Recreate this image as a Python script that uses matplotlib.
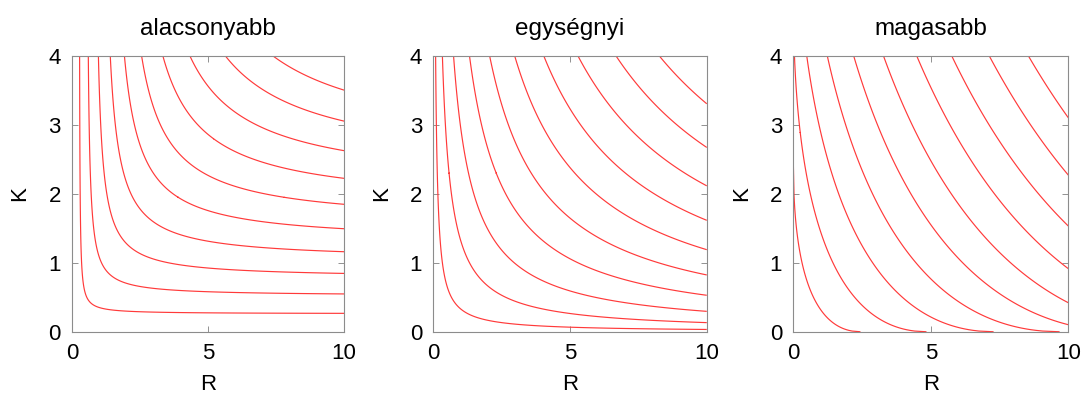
import numpy as np
import matplotlib
matplotlib.use('Agg')
import matplotlib.pyplot as plt

plt.rcParams['font.family'] = ['Liberation Sans', 'DejaVu Sans']

# panel titles (elasticity of substitution: lower / unit / higher)
titles = ['alacsonyabb', 'egységnyi', 'magasabb']

# CES exponent s in Y = (0.5*R^s + 0.5*K^s)^(1/s); s=0 -> Cobb-Douglas
ces_exp = [-1.0, 0.0, 0.5]

# contour levels (10 isoquants per panel)
levels_low = [0.52, 1.04, 1.56, 2.08, 2.60, 3.12, 3.64, 4.16, 4.68, 5.19]
levels_unit = [0.575, 1.15, 1.72, 2.30, 2.87, 3.45, 4.02, 4.60, 5.17, 5.75]
levels_high = [0.61, 1.21, 1.82, 2.42, 3.03, 3.63, 4.24, 4.84, 5.45, 6.06]
all_levels = [levels_low, levels_unit, levels_high]

# input grid (R: labour, K: capital)
R = np.linspace(0, 10, 401)
K = np.linspace(0, 4, 401)
RR, KK = np.meshgrid(R, K)


def ces(r, k, s):
    with np.errstate(divide='ignore', invalid='ignore'):
        if s == 0:
            y = np.sqrt(r * k)
        else:
            y = (0.5 * r ** s + 0.5 * k ** s) ** (1.0 / s)
    return np.nan_to_num(y, nan=0.0, posinf=0.0)


fig = plt.figure(figsize=(10.85, 3.94), dpi=100)
positions = [[0.0664, 0.158, 0.2507, 0.700],
             [0.3994, 0.158, 0.2520, 0.700],
             [0.7312, 0.158, 0.2535, 0.700]]

for pos, title, s, lev in zip(positions, titles, ces_exp, all_levels):
    ax = fig.add_axes(pos)
    Z = ces(RR, KK, s)
    ax.contour(RR, KK, Z, levels=lev, colors='#ff3a3a', linewidths=0.85)
    ax.set_xlim(0, 10)
    ax.set_ylim(0, 4)
    ax.set_xticks([0, 5, 10])
    ax.set_yticks([0, 1, 2, 3, 4])
    ax.set_title(title, fontsize=17.5, pad=15)
    ax.set_xlabel('R', fontsize=16, labelpad=7)
    ax.set_ylabel('K', fontsize=16, labelpad=13)
    ax.tick_params(direction='in', length=4, width=0.6, color='#808080',
                   labelsize=16, top=True, right=True, pad=8)
    for sp in ax.spines.values():
        sp.set_color('#8c8c8c')
        sp.set_linewidth(0.8)

fig.savefig('out.png', dpi=100)
